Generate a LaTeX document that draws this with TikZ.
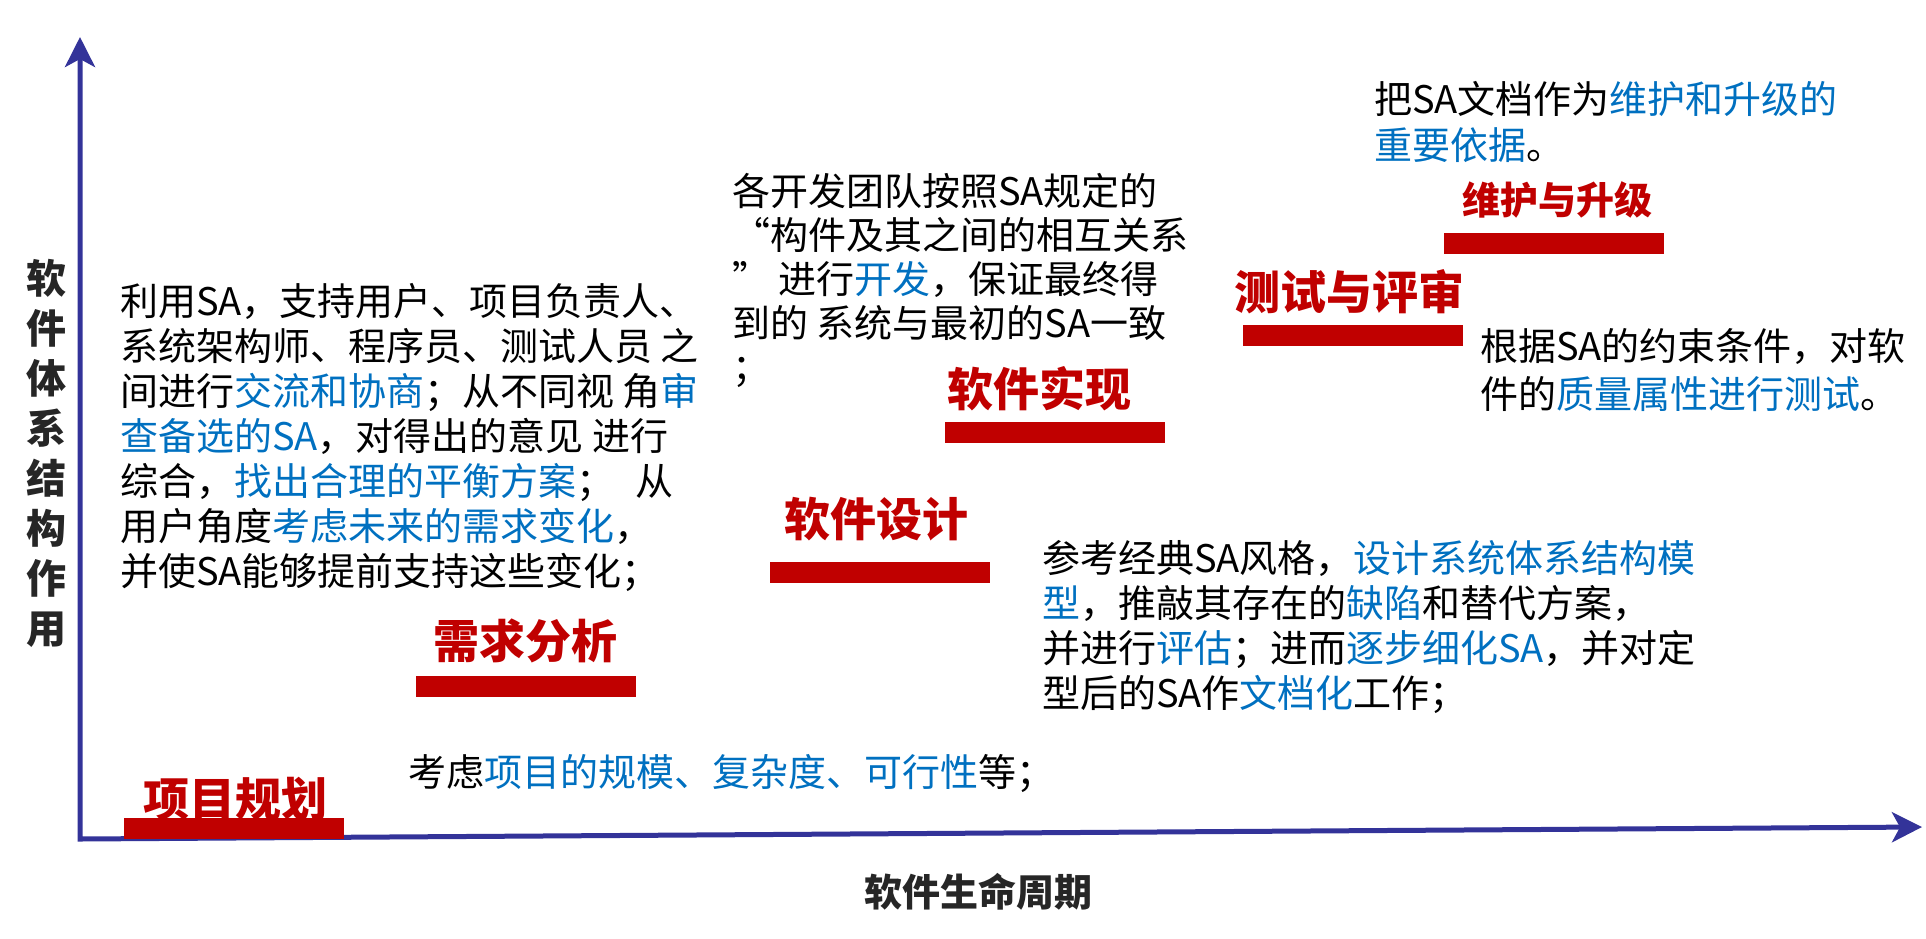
\documentclass[tikz,border=0pt]{standalone}
\usepackage{fontspec}
\setmainfont{Noto Sans CJK SC}
\usepackage{xcolor}
\usepackage{tikz}
\usetikzlibrary{arrows.meta}

\definecolor{axisblue}{RGB}{51,51,153}
\definecolor{phasered}{RGB}{192,0,0}
\definecolor{keyblue}{RGB}{0,112,192}
\definecolor{labelgray}{RGB}{38,38,38}
\newcommand{\keyw}[1]{\textcolor{keyblue}{#1}}

\begin{document}
\begin{tikzpicture}[x=1pt,y=-1pt,
  axis/.style={line width=5pt, draw=axisblue, line join=miter},
  phase/.style={font=\bfseries\fontsize{46}{46}\selectfont, text=phasered, inner sep=0pt},
  phasebar/.style={fill=phasered, minimum width=220pt, minimum height=21pt, inner sep=0pt},
  desc/.style={font=\fontsize{38}{45}\selectfont, align=left, anchor=west, inner sep=0pt},
  axislabel/.style={font=\bfseries\fontsize{38}{50}\selectfont, text=labelgray, inner sep=0pt, align=center}]
\useasboundingbox (0,0) rectangle (1926,938);

% axes
\coordinate (origin) at (80,839);
\coordinate (ytip) at (80,37);
\coordinate (xtip) at (1922,827);
\draw[axis, {Stealth[length=30pt,width=30pt,inset=8pt]}-{Stealth[length=30pt,width=30pt,inset=8pt]}]
  (ytip) -- (origin) -- (xtip);
\node[axislabel, font=\bfseries\fontsize{40}{50}\selectfont] (ylabel) at (46,453) {软\\件\\体\\系\\结\\构\\作\\用};
\node[axislabel] (xlabel) at (978,892) {软件生命周期};

% phases along the life cycle
\node[phase] (plan) at (235,799) {项目规划};
\node[phasebar] (planbar) at (234,828) {};
\node[phase] (req) at (525,641) {需求分析};
\node[phasebar] (reqbar) at (526,686) {};
\node[phase] (design) at (876,519) {软件设计};
\node[phasebar] (designbar) at (880,572) {};
\node[phase] (impl) at (1039,389) {软件实现};
\node[phasebar] (implbar) at (1055,432) {};
\node[phase] (test) at (1349,292) {测试与评审};
\node[phasebar] (testbar) at (1353,335) {};
\node[phase, font=\bfseries\fontsize{38}{38}\selectfont] (maint) at (1557,200) {维护与升级};
\node[phasebar] (maintbar) at (1554,243) {};

% what the SA is used for in each phase
\node[desc] (plantext) at (408,773) {考虑\keyw{项目的规模、复杂度、可行性}等；};
\node[desc] (reqtext) at (120,437) {利用SA，支持用户、项目负责人、\\
  系统架构师、程序员、测试人员 之\\
  间进行\keyw{交流和协商}；从不同视 角\keyw{审}\\
  \keyw{查备选的SA}，对得出的意见 进行\\
  综合，\keyw{找出合理的平衡方案}；\hspace*{0.55em}从\\
  用户角度\keyw{考虑未来的需求变化}，\\
  并使SA能够提前支持这些变化；};
\node[desc] (designtext) at (1042,627) {参考经典SA风格，\keyw{设计系统体系结构模}\\
  \keyw{型}，推敲其存在的\keyw{缺陷}和替代方案，\\
  并进行\keyw{评估}；进而\keyw{逐步细化SA}，并对定\\
  型后的SA作\keyw{文档化}工作；};
\node[desc, font=\fontsize{38}{44}\selectfont] (impltext) at (732,280) {各开发团队按照SA规定的\\
  “构件及其之间的相互关系\\
  ” 进行\keyw{开发}，保证最终得\\
  到的 系统与最初的SA一致\\
  ；};
\node[desc, font=\fontsize{38}{48}\selectfont] (testtext) at (1480,370) {根据SA的约束条件，对软\\
  件的\keyw{质量属性进行测试}。};
\node[desc, font=\fontsize{38}{46}\selectfont] (mainttext) at (1374,122) {把SA文档作为\keyw{维护和升级的}\\
  \keyw{重要依据}。};
\end{tikzpicture}
\end{document}
